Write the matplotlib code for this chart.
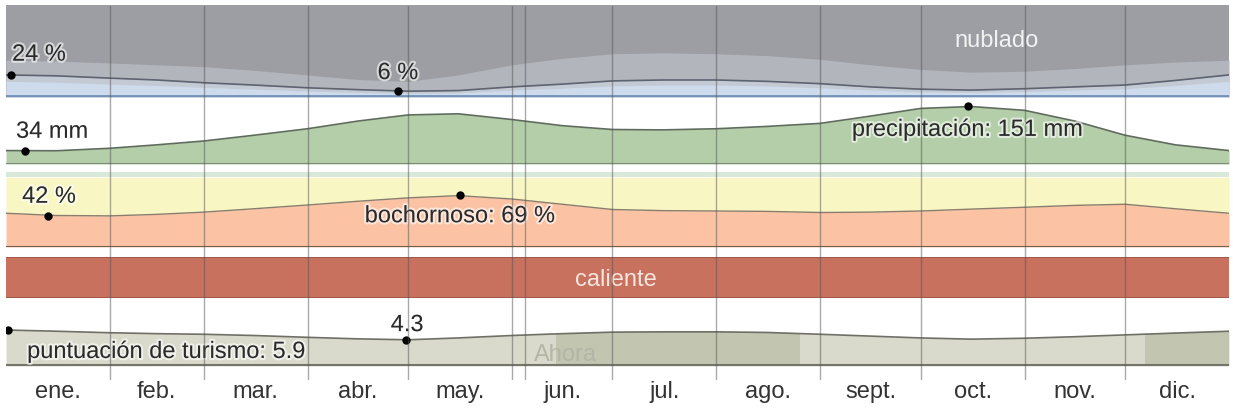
import matplotlib
matplotlib.use("Agg")
import matplotlib.pyplot as plt
import matplotlib.patheffects as pe

plt.rcParams['font.family'] = ['Liberation Sans', 'DejaVu Sans']

# jours de l'année (demi-mois)
days = [0, 15, 31, 45, 59, 74, 90, 105, 120, 135, 151, 166, 181, 196, 212, 227,
        243, 258, 273, 288, 304, 319, 334, 349, 365]

months = ["ene.", "feb.", "mar.", "abr.", "may.", "jun.", "jul.", "ago.",
          "sept.", "oct.", "nov.", "dic."]
month_starts = [0, 31, 59, 90, 120, 151, 181, 212, 243, 273, 304, 334, 365]

# nubes (%)
cloud_upper = [40, 39, 37, 35, 33, 29, 24, 19, 17, 24, 35, 42, 47, 48, 47, 45,
               41, 35, 30, 27, 28, 31, 35, 38, 40]
cloud_line = [24, 23, 20.5, 18.5, 15.5, 13, 10, 8, 6.3, 7, 11, 14, 17.5, 18.5,
              18.5, 17, 14.5, 11, 8.5, 7.5, 9, 11, 13, 18, 24]
cloud_lower = [17, 16, 14, 12.5, 10.5, 8.5, 6.5, 5, 4, 4.5, 7.5, 9.5, 12, 13,
               13, 12, 10, 7.5, 5.5, 5, 6, 7.5, 9, 12.5, 17]

# precipitación (mm)
precip = [35, 34.5, 41, 50, 60, 75, 92, 112, 128, 131, 116, 100, 90, 89, 92, 98,
          106, 125, 145, 150, 140, 112, 75, 50, 35]

# bochornoso (%)
muggy = [45, 42, 41.5, 43.5, 46.5, 51, 56, 61, 65.5, 68.5, 64, 57, 50, 48.5,
         48, 47.5, 46, 46.5, 48, 50.5, 53, 55.5, 57, 51, 45]
dry_top = 93

# puntuación de turismo
tourism = [5.9, 5.7, 5.45, 5.3, 5.2, 5.0, 4.7, 4.45, 4.3, 4.6, 5.0, 5.3, 5.55,
           5.6, 5.6, 5.5, 5.2, 4.9, 4.6, 4.4, 4.55, 4.8, 5.1, 5.4, 5.7]
best_periods = [(164, 237), (340, 365)]
now_day = 155

W, H = 1233, 411
fig = plt.figure(figsize=(W / 100, H / 100), dpi=100)

def panel(top, bot):
    ax = fig.add_axes([6 / W, 1 - bot / H, 1223 / W, (bot - top) / H])
    ax.set_xlim(0, 365)
    return ax

halo = [pe.withStroke(linewidth=3, foreground='white', alpha=0.6)]
fs = 17
tc = '#2a2a2a'

# --- nubes
ax = panel(5, 97)
ax.set_ylim(0, 100)
ax.set_axis_off()
ax.fill_between(days, 0, 100, color='#9c9ea3', lw=0)
ax.fill_between(days, 0, cloud_upper, color='#b2b5bc', lw=0)
ax.fill_between(days, 0, cloud_line, color='#c4cad4', lw=0)
ax.fill_between(days, 0, cloud_lower, color='#cedbec', lw=0)
ax.plot(days, cloud_line, color='#5e6370', lw=1.2)
ax.axhline(1, color='#7191b8', lw=2)
ax.plot([1.5], [24], 'o', color='black', ms=5)
ax.plot([117], [6], 'o', color='black', ms=5)
ax.text(1.8, 46, "24 %", fontsize=fs, color=tc, va='center', path_effects=halo)
ax.text(117, 26, "6 %", fontsize=fs, color=tc, ha='center', va='center', path_effects=halo)
ax.text(295.5, 61, "nublado", fontsize=fs, color='#f2f2f2', ha='center', va='center')

# --- precipitación
ax = panel(100, 164)
ax.set_ylim(0, 167)
ax.set_axis_off()
ax.fill_between(days, 0, precip, color='#b3cea8', lw=0)
ax.plot(days, precip, color='#5f6b5c', lw=1.2)
ax.axhline(1, color='#7d8c78', lw=1.5)
ax.plot([5.7], [34], 'o', color='black', ms=5)
ax.plot([287], [151], 'o', color='black', ms=5)
ax.text(3, 84, "34 mm", fontsize=fs, color=tc, va='center', path_effects=halo)
ax.text(287, 89, "precipitación: 151 mm", fontsize=fs, color=tc, ha='center',
        va='center', path_effects=halo)

# --- bochornoso
ax = panel(172, 247)
ax.set_ylim(0, 100)
ax.set_axis_off()
ax.fill_between(days, dry_top, 100, color='#d8e8d9', lw=0)
ax.fill_between(days, muggy, dry_top, color='#f8f7c4', lw=0)
ax.fill_between(days, 0, muggy, color='#fbc3a3', lw=0)
ax.plot(days, muggy, color='#8a7d6d', lw=1)
ax.axhline(0.5, color='#6e5e54', lw=1.5)
ax.plot([12.5], [42], 'o', color='black', ms=5)
ax.plot([135.5], [69], 'o', color='black', ms=5)
ax.text(4.8, 67, "42 %", fontsize=fs, color=tc, va='center', path_effects=halo)
ax.text(135.5, 41, "bochornoso: 69 %", fontsize=fs, color=tc, ha='center',
        va='center', path_effects=halo)

# --- temperatura
ax = panel(257, 298)
ax.set_ylim(0, 1)
ax.set_axis_off()
ax.axvspan(0, 365, color='#c8715f', lw=0)
ax.axhline(0.01, color='#9a5545', lw=1.2)
ax.axhline(0.99, color='#9a5545', lw=1.2)
ax.text(182, 0.45, "caliente", fontsize=fs, color='#f6e6de', ha='center', va='center')

# --- turismo
ax = panel(305, 366)
ax.set_ylim(0, 10)
poly = ax.fill_between(days, 0, tourism, color='#d9dacb', lw=0)
path = poly.get_paths()[0]
for a, b in best_periods:
    span = ax.axvspan(a, b, color='#c2c5b0', lw=0)
    span.set_clip_path(path, transform=ax.transData)
ax.plot(days, tourism, color='#6f6f66', lw=1.2)
ax.axhline(0.1, color='#75756c', lw=1.5)
ax.plot([0.6], [5.9], 'o', color='black', ms=5)
ax.plot([119.5], [4.3], 'o', color='black', ms=5)
ax.text(119.7, 6.7, "4.3", fontsize=fs, color=tc, ha='center', va='center', path_effects=halo)
ax.text(6.3, 2.3, "puntuación de turismo: 5.9", fontsize=fs, color=tc, va='center',
        path_effects=halo)
ax.text(167, 1.8, "Ahora", fontsize=fs, color='#b3b5a6', ha='center', va='center')
for s in ax.spines.values():
    s.set_visible(False)
ax.set_yticks([])
mids = [(month_starts[i] + month_starts[i + 1]) / 2 for i in range(12)]
ax.set_xticks(mids)
ax.set_xticklabels(months, fontsize=fs, color='#333333')
ax.tick_params(axis='x', length=0, pad=11)

# --- lignes des mois
ov = panel(6, 380)
ov.set_ylim(0, 1)
ov.set_axis_off()
ov.patch.set_alpha(0)
for d in month_starts[1:-1]:
    ov.axvline(d, color='#555555', alpha=0.5, lw=1)
ov.axvline(now_day, color='#555555', alpha=0.5, lw=1)

plt.savefig('out.png', dpi=100)
